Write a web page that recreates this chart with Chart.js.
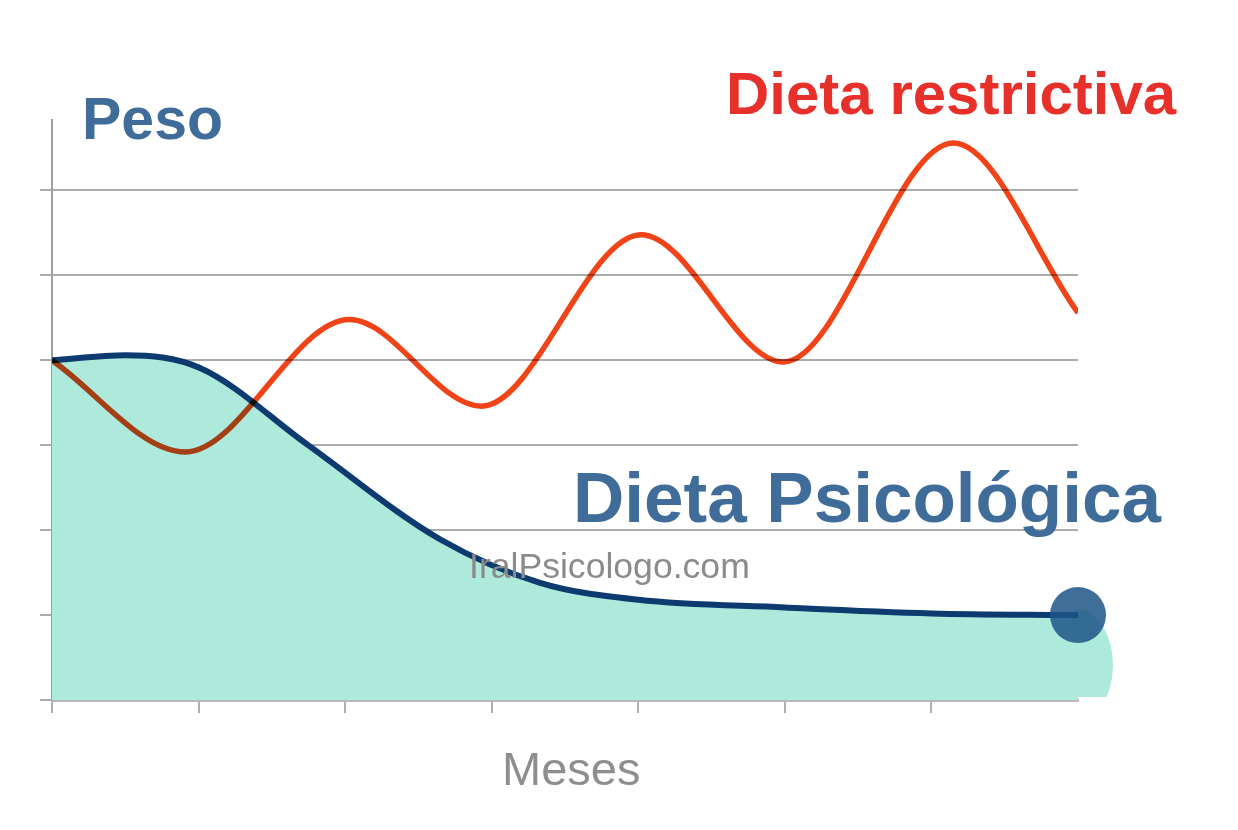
<!DOCTYPE html>
<html>
<head>
<meta charset="utf-8">
<script src="https://cdn.jsdelivr.net/npm/chart.js@4.4.0/dist/chart.umd.min.js"></script>
<style>
  html, body { margin: 0; padding: 0; background: #ffffff; }
  #wrap { position: relative; width: 1238px; height: 830px; overflow: hidden; }
  canvas { position: absolute; left: 0; top: 0; }
  .lbl { position: absolute; white-space: nowrap; line-height: 1; font-family: "Liberation Sans", Arial, sans-serif; }
</style>
</head>
<body>
<div id="wrap">
  <canvas id="c" width="1238" height="830"></canvas>
  <div class="lbl" style="left:82px; top:90px; font-size:59px; font-weight:bold; color:#3f6c99;">Peso</div>
  <div class="lbl" style="left:726px; top:64px; font-size:60px; font-weight:bold; color:#e8302b;">Dieta restrictiva</div>
  <div class="lbl" style="left:573px; top:462px; font-size:71px; font-weight:bold; color:#3f6c99;">Dieta Psicológica</div>
  <div class="lbl" style="left:469px; top:549px; font-size:35.6px; color:#8b8b8b;">IralPsicologo.com</div>
  <div class="lbl" style="left:502px; top:745px; font-size:47px; color:#8e8e8e;">Meses</div>
</div>
<script>
// Months (x, in month units) and weight levels (y, arbitrary units)
const psicoMonths = [0, 0.5, 1.01, 1.74, 2.65, 3.33, 4.0, 5.0, 6.0, 7.0];
const psicoWeight = [4.0, 4.06, 3.91, 3.01, 1.89, 1.38, 1.18, 1.09, 1.02, 1.0];

const restrMonths = [0, 0.91, 2.03, 2.93, 4.02, 4.99, 6.15, 7.0];
const restrWeight = [4.0, 2.92, 4.48, 3.46, 5.48, 3.98, 6.56, 4.56];

const xTicks = [0, 1, 2, 3, 4, 5, 6];
const yTicks = [0, 1, 2, 3, 4, 5, 6];

const toPts = (xs, ys) => xs.map((x, i) => ({ x: x, y: ys[i] }));

const FILL = '#aeeadb';

// Rounded end of the mint area, placed from the scales
const capPlugin = {
  id: 'fillCap',
  beforeDatasetsDraw(chart) {
    const xs = chart.scales.x, ys = chart.scales.y;
    const cx = xs.getPixelForValue(psicoMonths[psicoMonths.length - 1]);
    const top = ys.getPixelForValue(psicoWeight[psicoWeight.length - 1]) - 5;
    const bottom = ys.getPixelForValue(0) - 3;
    const ry = 55, rx = 35;
    const cy = top + ry;
    const ctx = chart.ctx;
    ctx.save();
    ctx.beginPath();
    ctx.rect(cx - 2, top - 2, rx + 10, bottom - top + 2);
    ctx.clip();
    ctx.fillStyle = FILL;
    ctx.beginPath();
    ctx.moveTo(cx - 2, top);
    ctx.ellipse(cx, cy, rx, ry, 0, -Math.PI / 2, Math.PI / 2);
    ctx.lineTo(cx - 2, bottom);
    ctx.closePath();
    ctx.fill();
    ctx.restore();
  }
};

// Red line is multiplied onto the mint area
const blendPlugin = {
  id: 'blend',
  beforeDatasetDraw(chart, args) {
    if (args.index === 0) { chart.ctx.save(); chart.ctx.globalCompositeOperation = 'multiply'; }
  },
  afterDatasetDraw(chart, args) {
    if (args.index === 0) { chart.ctx.restore(); }
  }
};

const lastIdx = psicoWeight.length - 1;

new Chart(document.getElementById('c'), {
  type: 'line',
  data: {
    datasets: [
      {
        label: 'Dieta restrictiva',
        data: toPts(restrMonths, restrWeight),
        borderColor: '#f04418',
        borderWidth: 5.5,
        pointRadius: 0,
        cubicInterpolationMode: 'monotone',
        fill: false,
        order: 0
      },
      {
        label: 'Dieta Psicológica',
        data: toPts(psicoMonths, psicoWeight),
        borderColor: '#0d3b6f',
        borderWidth: 6,
        backgroundColor: FILL,
        fill: 'origin',
        cubicInterpolationMode: 'monotone',
        pointRadius: psicoWeight.map((v, i) => i === lastIdx ? 28 : 0),
        pointBackgroundColor: 'rgba(29,85,135,0.85)',
        pointBorderWidth: 0,
        clip: false,
        order: 1
      }
    ]
  },
  options: {
    responsive: false,
    animation: false,
    events: [],
    layout: { padding: { left: 40, right: 160, top: 120, bottom: 117 } },
    plugins: { legend: { display: false }, tooltip: { enabled: false } },
    scales: {
      x: {
        type: 'linear',
        min: 0,
        max: 7,
        afterBuildTicks: (s) => { s.ticks = xTicks.map(v => ({ value: v })); },
        ticks: { display: false },
        grid: { drawOnChartArea: false, drawTicks: true, tickLength: 13, color: '#b0b0b0', lineWidth: 2 },
        border: { display: true, color: '#b8b8b8', width: 3 }
      },
      y: {
        type: 'linear',
        min: 0,
        max: 6.83,
        afterBuildTicks: (s) => { s.ticks = yTicks.map(v => ({ value: v })); },
        ticks: { display: false },
        grid: { drawTicks: true, tickLength: 12, color: '#ababab', lineWidth: 2 },
        border: { display: true, color: '#a0a0a0', width: 2 }
      }
    }
  },
  plugins: [capPlugin, blendPlugin]
});
</script>
</body>
</html>
